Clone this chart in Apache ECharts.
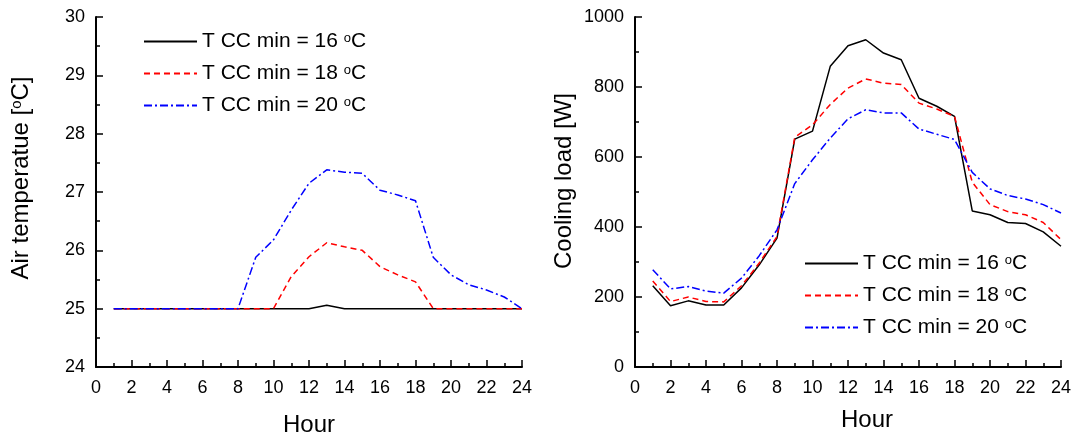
<!DOCTYPE html>
<html>
<head>
<meta charset="utf-8">
<script src="https://cdn.jsdelivr.net/npm/echarts@6/dist/echarts.min.js"></script>
<style>
  html, body { margin: 0; padding: 0; background: #fff; }
  #chart { width: 1078px; height: 436px; }
</style>
</head>
<body>
<div id="chart"></div>
<script>
// Hour of day
const hours = [1, 2, 3, 4, 5, 6, 7, 8, 9, 10, 11, 12, 13, 14, 15, 16, 17, 18, 19, 20, 21, 22, 23, 24];
const seriesNames = ['T CC min = 16 oC', 'T CC min = 18 oC', 'T CC min = 20 oC'];

// Air temperature [oC]
const airTemp16 = [25, 25, 25, 25, 25, 25, 25, 25, 25, 25, 25, 25, 25.06, 25, 25, 25, 25, 25, 25, 25, 25, 25, 25, 25];
const airTemp18 = [25, 25, 25, 25, 25, 25, 25, 25, 25, 25, 25.55, 25.89, 26.13, 26.06, 26.0, 25.72, 25.58, 25.46, 25, 25, 25, 25, 25, 25];
const airTemp20 = [25, 25, 25, 25, 25, 25, 25, 25, 25.88, 26.18, 26.69, 27.15, 27.38, 27.34, 27.32, 27.03, 26.95, 26.85, 25.88, 25.58, 25.41, 25.32, 25.2, 25.0];

// Cooling load [W]
const load16 = [232, 175, 189, 177, 177, 226, 292, 368, 651, 674, 859, 918, 935, 897, 878, 768, 745, 716, 446, 435, 413, 410, 386, 345];
const load18 = [246, 187, 200, 187, 186, 232, 297, 373, 656, 692, 750, 797, 823, 811, 807, 754, 737, 716, 528, 464, 444, 435, 413, 364];
const load20 = [278, 223, 230, 217, 211, 254, 318, 392, 524, 592, 654, 709, 735, 726, 726, 680, 665, 650, 556, 509, 490, 480, 464, 440];

const FONT = 'Liberation Sans, Arial, sans-serif';
const lineStyles = [
  { color: '#000000', width: 1.5, type: 'solid' },
  { color: '#ff0000', width: 1.5, type: [6, 4] },
  { color: '#0000ff', width: 1.5, type: [8, 3, 2, 3] }
];

const pairs = arr => hours.map((h, i) => [h, arr[i]]);

function xAxisFor(gridIndex, gap, namePad) {
  return {
    gridIndex, type: 'value', min: 0, max: 24, interval: 2,
    name: 'Hour', nameLocation: 'middle', nameGap: gap,
    nameTextStyle: { fontFamily: FONT, fontSize: 24, color: '#000', padding: namePad },
    axisLine: { show: true, onZero: false, lineStyle: { color: '#000', width: 2 } },
    axisTick: { show: true, inside: true, length: 7, lineStyle: { color: '#000', width: 1.5 } },
    minorTick: { show: true, splitNumber: 2, length: 4, lineStyle: { color: '#000', width: 1.5 } },
    splitLine: { show: false },
    axisLabel: { fontFamily: FONT, fontSize: 18, color: '#000', margin: 12 }
  };
}

function yAxisFor(gridIndex, min, max, interval, name, gap, shift) {
  return {
    gridIndex, type: 'value', min, max, interval,
    name, nameLocation: 'middle', nameGap: gap,
    nameTextStyle: {
      fontFamily: FONT, fontSize: 24, color: '#000', padding: [0, 0, 0, shift],
      rich: { s: { fontFamily: FONT, fontSize: 15, color: '#000', verticalAlign: 'top', lineHeight: 10 } }
    },
    axisLine: { show: true, lineStyle: { color: '#000', width: 2 } },
    axisTick: { show: true, inside: true, length: 7, lineStyle: { color: '#000', width: 1.5 } },
    minorTick: { show: true, splitNumber: 2, length: 4, lineStyle: { color: '#000', width: 1.5 } },
    splitLine: { show: false },
    axisLabel: { fontFamily: FONT, fontSize: 18, color: '#000', margin: 11, formatter: v => String(v) }
  };
}

function legendFor(left, top) {
  return {
    orient: 'vertical', left, top, padding: 0,
    itemWidth: 53, itemHeight: 20, itemGap: 11,
    itemStyle: { opacity: 0 },
    data: seriesNames,
    formatter: n => '{t|' + n.replace(/ oC$/, ' ') + '}{s|o}{t|C}',
    textStyle: {
      fontFamily: FONT, fontSize: 21, color: '#000',
      rich: {
        t: { fontFamily: FONT, fontSize: 21, color: '#000', lineHeight: 20 },
        s: { fontFamily: FONT, fontSize: 13, color: '#000', verticalAlign: 'top', lineHeight: 8 }
      }
    }
  };
}

function lineSeries(idx, data, axisIndex) {
  return {
    type: 'line', name: seriesNames[idx], data: pairs(data),
    xAxisIndex: axisIndex, yAxisIndex: axisIndex,
    symbol: 'none', smooth: false, lineStyle: lineStyles[idx], itemStyle: { color: lineStyles[idx].color },
    emphasis: { disabled: true }, animation: false
  };
}

const chart = echarts.init(document.getElementById('chart'), null, { renderer: 'canvas' });
chart.setOption({
  backgroundColor: '#ffffff',
  animation: false,
  grid: [
    { left: 96, top: 17, width: 426, height: 350, outerBoundsMode: 'none' },
    { left: 635, top: 17, width: 426, height: 350, outerBoundsMode: 'none' }
  ],
  legend: [legendFor(143, 31), legendFor(804, 253)],
  xAxis: [xAxisFor(0, 46, [0, 0, 0, 0]), xAxisFor(1, 41, [0, 0, 0, 38])],
  yAxis: [
    yAxisFor(0, 24, 30, 1, 'Air temperatue [{s|o}C]', 63, 28),
    yAxisFor(1, 0, 1000, 200, 'Cooling load [W]', 59, 22)
  ],
  series: [
    lineSeries(0, airTemp16, 0),
    lineSeries(1, airTemp18, 0),
    lineSeries(2, airTemp20, 0),
    lineSeries(0, load16, 1),
    lineSeries(1, load18, 1),
    lineSeries(2, load20, 1)
  ]
});
</script>
</body>
</html>
